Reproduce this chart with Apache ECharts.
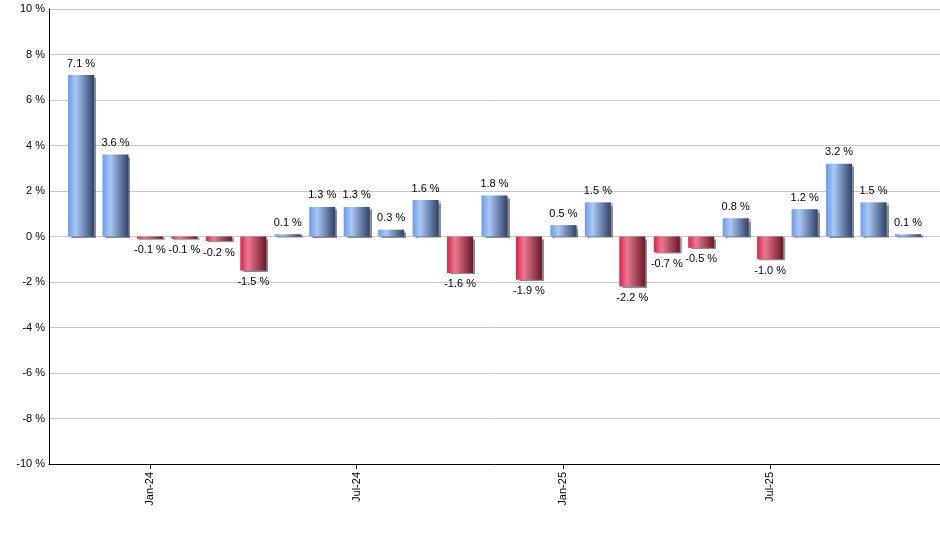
<!DOCTYPE html>
<html>
<head>
<meta charset="utf-8">
<script src="https://cdn.jsdelivr.net/npm/echarts@6/dist/echarts.min.js"></script>
<style>
html,body{margin:0;padding:0;background:#fff;}
#chart{width:940px;height:550px;}
</style>
</head>
<body>
<div id="chart"></div>
<script>
const months = ['Nov-23','Dec-23','Jan-24','Feb-24','Mar-24','Apr-24','May-24','Jun-24','Jul-24','Aug-24','Sep-24','Oct-24','Nov-24','Dec-24','Jan-25','Feb-25','Mar-25','Apr-25','May-25','Jun-25','Jul-25','Aug-25','Sep-25','Oct-25','Nov-25'];
const values = [7.1,3.6,-0.1,-0.1,-0.2,-1.5,0.1,1.3,1.3,0.3,1.6,-1.6,1.8,-1.9,0.5,1.5,-2.2,-0.7,-0.5,0.8,-1.0,1.2,3.2,1.5,0.1];
const tickLabels = ['Jan-24','Jul-24','Jan-25','Jul-25'];

const tickIdx = tickLabels.map(l => months.indexOf(l));
const posGrad = {type:'linear',x:0,y:0,x2:1,y2:0,colorStops:[
  {offset:0,color:'#6a9be9'},{offset:0.3,color:'#abc7f5'},{offset:1,color:'#2d4269'}]};
const negGrad = {type:'linear',x:0,y:0,x2:1,y2:0,colorStops:[
  {offset:0,color:'#dc2149'},{offset:0.3,color:'#e97a90'},{offset:1,color:'#6b1629'}]};

const data = values.map((v,i) => ({
  value:[i,v],
  itemStyle:{color: v >= 0 ? posGrad : negGrad},
  label:{position: v >= 0 ? 'top' : 'bottom'}
}));

const font = 'Liberation Sans, Arial, sans-serif';
const chart = echarts.init(document.getElementById('chart'), null, {renderer:'canvas'});
chart.setOption({
  animation:false,
  backgroundColor:'#fff',
  grid:{left:49,right:0,top:9,bottom:86,containLabel:false},
  xAxis:{
    type:'value', min:-0.93, max:24.93,
    splitLine:{show:false},
    axisLine:{show:true,onZero:false,lineStyle:{color:'#000',width:1}},
    axisTick:{show:true,customValues:tickIdx,length:5,lineStyle:{color:'#000'}},
    axisLabel:{customValues:tickIdx,rotate:90,margin:8,color:'#000',fontFamily:font,fontSize:11,
      formatter:v => months[Math.round(v)]}
  },
  yAxis:{
    type:'value', min:-10, max:10, interval:2,
    axisLine:{show:true,onZero:false,lineStyle:{color:'#000',width:1}},
    axisTick:{show:false},
    splitLine:{show:true,lineStyle:{color:'#c8c8c8',width:1}},
    axisLabel:{color:'#000',fontFamily:font,fontSize:11,margin:4,formatter:v => v + ' %'}
  },
  series:[{
    type:'bar',
    barWidth:26,
    data:data,
    itemStyle:{shadowColor:'rgba(0,0,0,0.45)',shadowOffsetX:2,shadowOffsetY:1,shadowBlur:1},
    label:{show:true,distance:6,color:'#000',fontFamily:font,fontSize:11,
      formatter:p => p.value[1].toFixed(1) + ' %'}
  }]
});
</script>
</body>
</html>
